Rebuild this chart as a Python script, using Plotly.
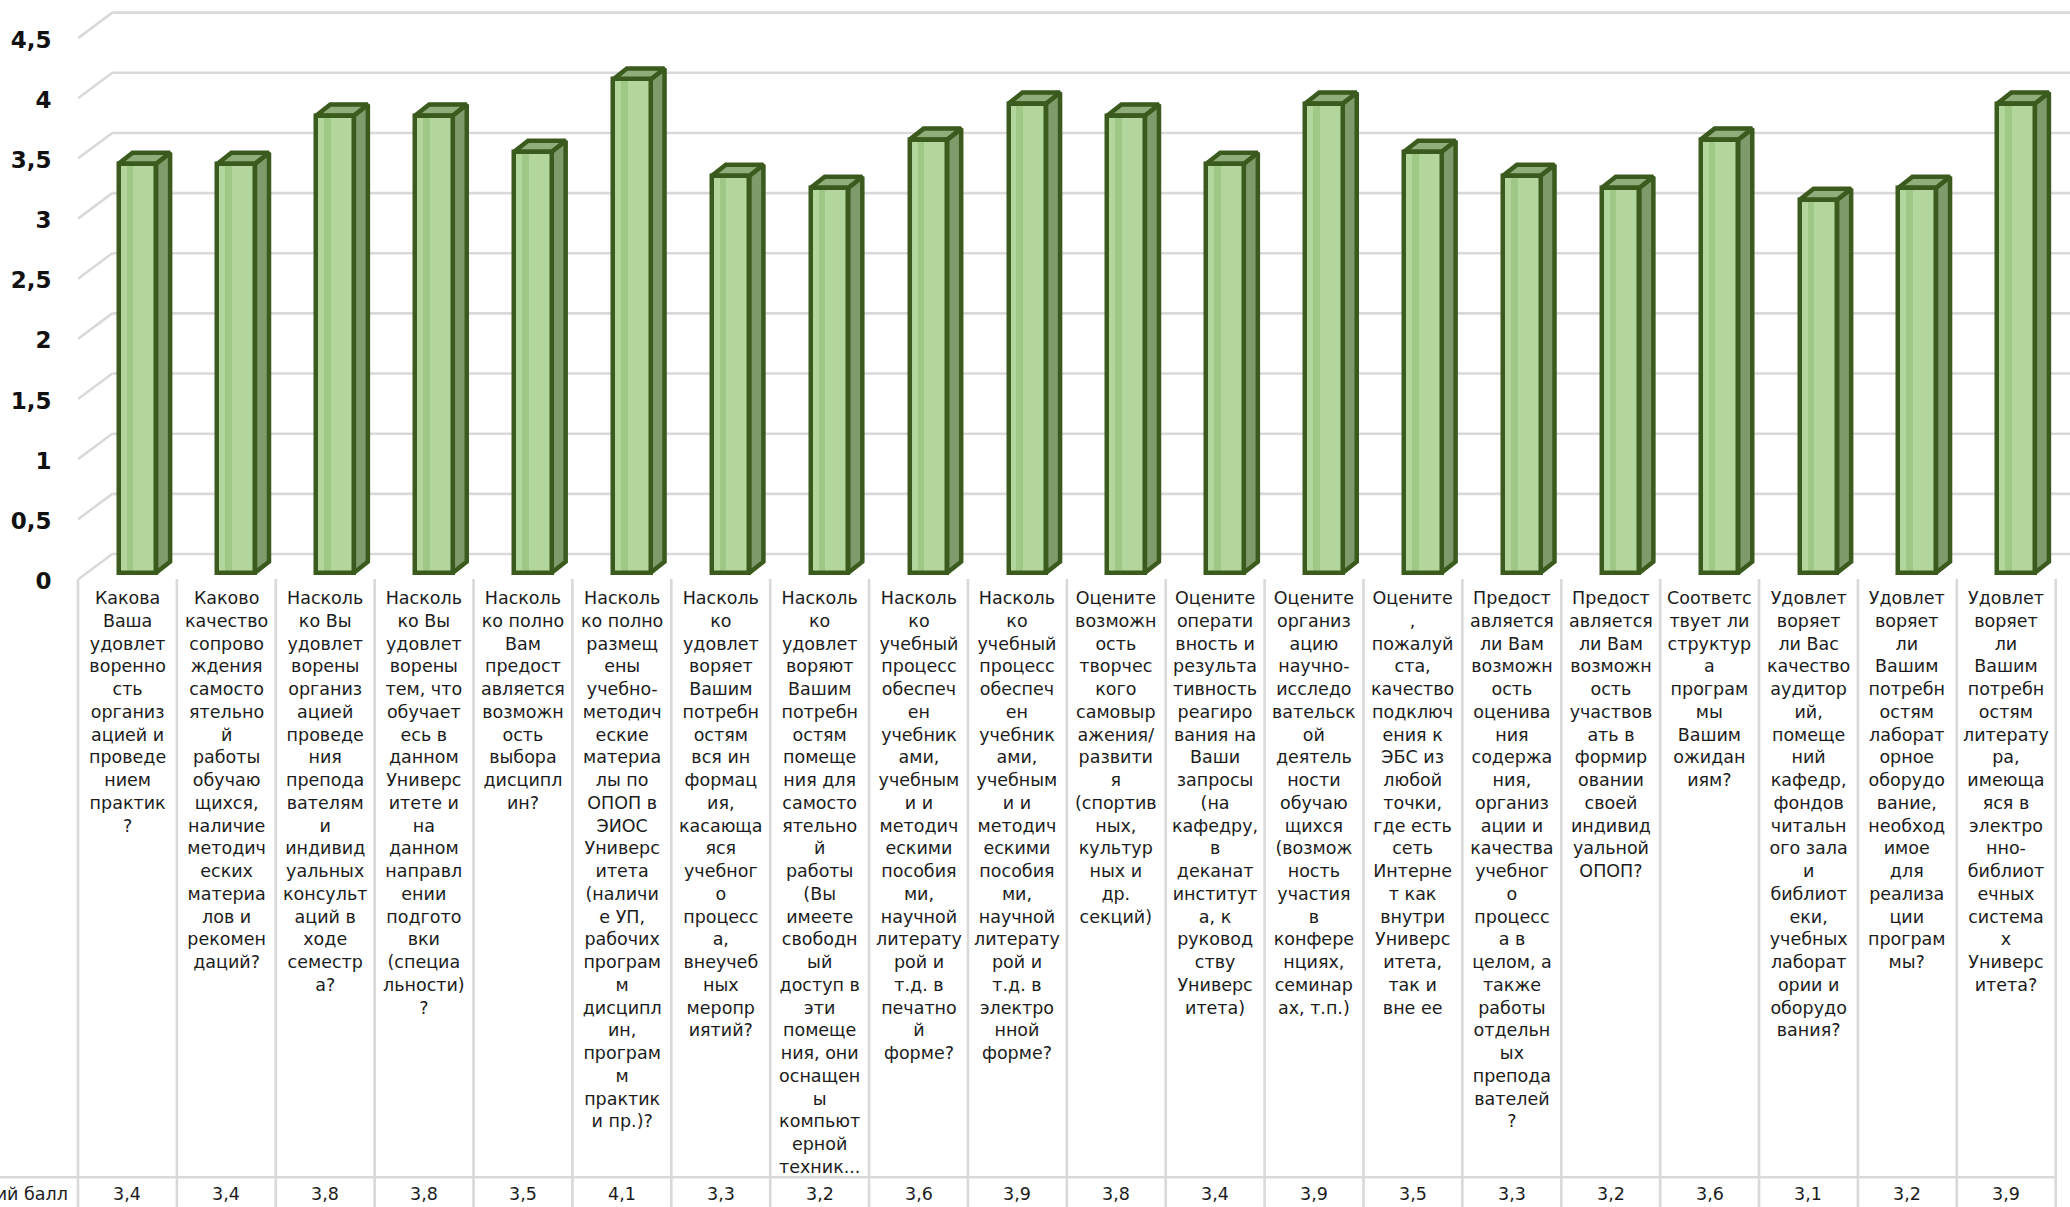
import plotly.graph_objects as go

# ---------------- data ----------------
category_lines = [
    ["Какова", "Ваша", "удовлет", "воренно", "сть", "организ", "ацией и", "проведе", "нием", "практик", "?"],
    ["Каково", "качество", "сопрово", "ждения", "самосто", "ятельно", "й", "работы", "обучаю", "щихся,", "наличие",
     "методич", "еских", "материа", "лов и", "рекомен", "даций?"],
    ["Насколь", "ко Вы", "удовлет", "ворены", "организ", "ацией", "проведе", "ния", "препода", "вателям", "и",
     "индивид", "уальных", "консульт", "аций в", "ходе", "семестр", "а?"],
    ["Насколь", "ко Вы", "удовлет", "ворены", "тем, что", "обучает", "есь в", "данном", "Универс", "итете и", "на",
     "данном", "направл", "ении", "подгото", "вки", "(специа", "льности)", "?"],
    ["Насколь", "ко полно", "Вам", "предост", "авляется", "возможн", "ость", "выбора", "дисципл", "ин?"],
    ["Насколь", "ко полно", "размещ", "ены", "учебно-", "методич", "еские", "материа", "лы по", "ОПОП в", "ЭИОС",
     "Универс", "итета", "(наличи", "е УП,", "рабочих", "програм", "м", "дисципл", "ин,", "програм", "м",
     "практик", "и пр.)?"],
    ["Насколь", "ко", "удовлет", "воряет", "Вашим", "потребн", "остям", "вся ин", "формац", "ия,", "касающа", "яся",
     "учебног", "о", "процесс", "а,", "внеучеб", "ных", "меропр", "иятий?"],
    ["Насколь", "ко", "удовлет", "воряют", "Вашим", "потребн", "остям", "помеще", "ния для", "самосто", "ятельно",
     "й", "работы", "(Вы", "имеете", "свободн", "ый", "доступ в", "эти", "помеще", "ния, они", "оснащен", "ы",
     "компьют", "ерной", "техник..."],
    ["Насколь", "ко", "учебный", "процесс", "обеспеч", "ен", "учебник", "ами,", "учебным", "и и", "методич",
     "ескими", "пособия", "ми,", "научной", "литерату", "рой и", "т.д. в", "печатно", "й", "форме?"],
    ["Насколь", "ко", "учебный", "процесс", "обеспеч", "ен", "учебник", "ами,", "учебным", "и и", "методич",
     "ескими", "пособия", "ми,", "научной", "литерату", "рой и", "т.д. в", "электро", "нной", "форме?"],
    ["Оцените", "возможн", "ость", "творчес", "кого", "самовыр", "ажения/", "развити", "я", "(спортив", "ных,",
     "культур", "ных и", "др.", "секций)"],
    ["Оцените", "операти", "вность и", "результа", "тивность", "реагиро", "вания на", "Ваши", "запросы", "(на",
     "кафедру,", "в", "деканат", "институт", "а, к", "руковод", "ству", "Универс", "итета)"],
    ["Оцените", "организ", "ацию", "научно-", "исследо", "вательск", "ой", "деятель", "ности", "обучаю", "щихся",
     "(возмож", "ность", "участия", "в", "конфере", "нциях,", "семинар", "ах, т.п.)"],
    ["Оцените", ",", "пожалуй", "ста,", "качество", "подключ", "ения к", "ЭБС из", "любой", "точки,", "где есть",
     "сеть", "Интерне", "т как", "внутри", "Универс", "итета,", "так и", "вне ее"],
    ["Предост", "авляется", "ли Вам", "возможн", "ость", "оценива", "ния", "содержа", "ния,", "организ", "ации и",
     "качества", "учебног", "о", "процесс", "а в", "целом, а", "также", "работы", "отдельн", "ых", "препода",
     "вателей", "?"],
    ["Предост", "авляется", "ли Вам", "возможн", "ость", "участвов", "ать в", "формир", "овании", "своей",
     "индивид", "уальной", "ОПОП?"],
    ["Соответс", "твует ли", "структур", "а", "програм", "мы", "Вашим", "ожидан", "иям?"],
    ["Удовлет", "воряет", "ли Вас", "качество", "аудитор", "ий,", "помеще", "ний", "кафедр,", "фондов", "читальн",
     "ого зала", "и", "библиот", "еки,", "учебных", "лаборат", "ории и", "оборудо", "вания?"],
    ["Удовлет", "воряет", "ли", "Вашим", "потребн", "остям", "лаборат", "орное", "оборудо", "вание,", "необход",
     "имое", "для", "реализа", "ции", "програм", "мы?"],
    ["Удовлет", "воряет", "ли", "Вашим", "потребн", "остям", "литерату", "ра,", "имеюща", "яся в", "электро",
     "нно-", "библиот", "ечных", "система", "х", "Универс", "итета?"],
]

values = [3.4, 3.4, 3.8, 3.8, 3.5, 4.1, 3.3, 3.2, 3.6, 3.9, 3.8, 3.4, 3.9, 3.5, 3.3, 3.2, 3.6, 3.1, 3.2, 3.9]

tick_values = [0, 0.5, 1, 1.5, 2, 2.5, 3, 3.5, 4, 4.5]
tick_labels = ["0", "0,5", "1", "1,5", "2", "2,5", "3", "3,5", "4", "4,5"]

row_label = "Средний балл"

# ---------------- geometry / style ----------------
W, H = 2070, 1207
PX_L = 77.7          # left edge of the plot area (px)
COL = 98.9           # width of one category slot (px)
FLOOR_PX = 579.0     # front edge of the floor / top of the table (px)
PLOT_B = 600.0       # bottom of plot area (px)
S = 120.3            # px per value unit
BASE_PX = 572.7      # pixel of bar base

n = len(values)
x_range = [-0.5, -0.5 + (W - PX_L) / COL]
y_range = [(BASE_PX - PLOT_B) / S, BASE_PX / S]

back_off = (BASE_PX - 554.0) / S       # back wall gridline offset
front_off = (BASE_PX - 579.5) / S      # front edge of walls
label_off = (BASE_PX - 581.0) / S      # tick label offset
back_left = -0.5 + (112.0 - PX_L) / COL

FONT = "DejaVu Sans"
GRID = "#d9d9d9"
OUTLINE = "#3b5a1d"
FRONT = "#b2d69b"
STRIPE = "#9fc886"
SIDE = "#7f9a6b"
TOP = "#90ae7b"
TXT = "#1c1c1c"

bar_off = 0.10
bw = 0.38
ddx = 14.0 / COL
ddy = 11.0 / S

xc = [i + bar_off for i in range(n)]
xl = [c - bw / 2 for c in xc]
xr = [c + bw / 2 for c in xc]

fig = go.Figure()

# back-wall gridlines and left wall diagonals
gx, gy = [], []
for t in tick_values:
    gx += [back_left, x_range[1], None]
    gy += [t + back_off, t + back_off, None]
    gx += [-0.5, back_left, None]
    gy += [t + front_off, t + back_off, None]
fig.add_trace(go.Scatter(x=gx, y=gy, mode="lines", line=dict(color=GRID, width=2.6),
                         hoverinfo="skip", showlegend=False, zorder=0))

# side faces
sx, sy = [], []
for a, v in zip(xr, values):
    sx += [a, a + ddx, a + ddx, a, a, None]
    sy += [0, ddy, v + ddy, v, 0, None]
fig.add_trace(go.Scatter(x=sx, y=sy, mode="lines", fill="toself", fillcolor=SIDE,
                         line=dict(color=OUTLINE, width=4.5), hoverinfo="skip",
                         showlegend=False, zorder=1))

# top faces
tx, ty = [], []
for a, b, v in zip(xl, xr, values):
    tx += [a, a + ddx, b + ddx, b, a, None]
    ty += [v, v + ddy, v + ddy, v, v, None]
fig.add_trace(go.Scatter(x=tx, y=ty, mode="lines", fill="toself", fillcolor=TOP,
                         line=dict(color=OUTLINE, width=4.5), hoverinfo="skip",
                         showlegend=False, zorder=1))

# front faces
fig.add_trace(go.Bar(x=xc, y=values, width=bw, marker=dict(color=FRONT, line=dict(width=0)),
                     hoverinfo="skip", showlegend=False, zorder=2))
# bevel stripe
fig.add_trace(go.Bar(x=[a + 0.114 for a in xl], y=values, width=0.067,
                     marker=dict(color=STRIPE, line=dict(width=0)),
                     hoverinfo="skip", showlegend=False, zorder=3))
# front outline
fig.add_trace(go.Bar(x=xc, y=values, width=bw,
                     marker=dict(color="rgba(0,0,0,0)", line=dict(color=OUTLINE, width=4.5)),
                     hoverinfo="skip", showlegend=False, zorder=4))

PLOT_W = W - PX_L
PLOT_H = PLOT_B


def ypaper(px):
    return (PLOT_B - px) / PLOT_H


annotations = []
for i, lines in enumerate(category_lines):
    annotations.append(dict(x=i, xref="x", y=ypaper(585.5), yref="paper", yanchor="top",
                            xanchor="center", align="center", showarrow=False,
                            text="<br>".join(lines), font=dict(family=FONT, size=17.5, color=TXT)))
for i, v in enumerate(values):
    annotations.append(dict(x=i, xref="x", y=ypaper(1194.0), yref="paper", yanchor="middle",
                            xanchor="center", showarrow=False,
                            text=f"{v:.1f}".replace(".", ","),
                            font=dict(family=FONT, size=17.5, color=TXT)))
annotations.append(dict(x=(70.0 - PX_L) / PLOT_W, xref="paper", y=ypaper(1194.0), yref="paper",
                        yanchor="middle", xanchor="right", showarrow=False, text=row_label,
                        font=dict(family=FONT, size=17.5, color=TXT)))

shapes = []
for k in range(n + 1):
    xp = k * COL / PLOT_W
    shapes.append(dict(type="line", xref="paper", yref="paper", x0=xp, x1=xp,
                       y0=ypaper(FLOOR_PX), y1=ypaper(H + 10), line=dict(color=GRID, width=2.6)))
shapes.append(dict(type="line", xref="paper", yref="paper", x0=-PX_L / PLOT_W - 0.01,
                   x1=n * COL / PLOT_W, y0=ypaper(1177.3), y1=ypaper(1177.3),
                   line=dict(color=GRID, width=2.6)))

fig.update_layout(
    width=W, height=H,
    margin=dict(l=PX_L, r=0, t=0, b=H - PLOT_B, pad=0),
    paper_bgcolor="white", plot_bgcolor="rgba(0,0,0,0)",
    barmode="overlay", bargap=0,
    showlegend=False,
    annotations=annotations, shapes=shapes,
    xaxis=dict(range=x_range, visible=False, fixedrange=True),
    yaxis=dict(range=y_range, showgrid=False, zeroline=False, showline=False,
               tickvals=[t + label_off for t in tick_values], ticktext=tick_labels,
               ticks="outside", ticklen=21, tickcolor="rgba(0,0,0,0)",
               tickfont=dict(family=FONT, size=23, color="#111111", weight="bold"),
               automargin=False, fixedrange=True),
)

fig.write_html("out.html", config={"displayModeBar": False},
               post_script="document.body.style.margin='0';")
